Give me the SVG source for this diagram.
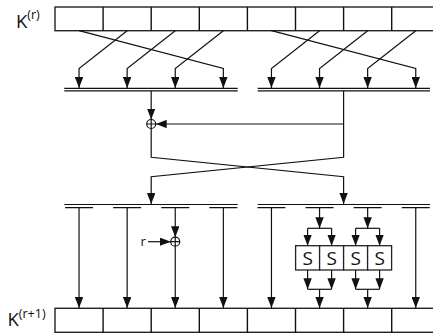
<svg xmlns="http://www.w3.org/2000/svg" width="433" height="333" viewBox="0 0 433 333">
<style>
.ln{fill:none;stroke:#111;stroke-width:1.2}
.ar{fill:none;stroke:#111;stroke-width:1.2;marker-end:url(#ah)}
.reg{fill:#fff;stroke:#222;stroke-width:1.4}
.box{fill:#fff;stroke:#222;stroke-width:1.3}
.t{font-family:"Open Sans","Noto Sans",sans-serif;fill:#111}
</style>
<defs>
<marker id="ah" markerUnits="userSpaceOnUse" markerWidth="11" markerHeight="8.4" refX="11" refY="4.2" orient="auto">
<path d="M0,0 L11,4.2 L0,8.4 z" fill="#111"/>
</marker>
</defs>

<g id="reg-top">
<rect class="reg" x="55" y="7" width="384.8" height="23.7"/>
<path class="ln" d="M103.1,7V30.7M151.2,7V30.7M199.3,7V30.7M247.4,7V30.7M295.5,7V30.7M343.6,7V30.7M391.7,7V30.7" style="stroke-width:1.4"/>
<text class="t" x="16" y="27.5" font-size="18.5">K<tspan font-size="12.5" dy="-9">(r)</tspan></text>
</g>

<g id="reg-bottom">
<rect class="reg" x="55" y="308.3" width="384.8" height="24"/>
<path class="ln" d="M103.1,308.3V332.3M151.2,308.3V332.3M199.3,308.3V332.3M247.4,308.3V332.3M295.5,308.3V332.3M343.6,308.3V332.3M391.7,308.3V332.3" style="stroke-width:1.4"/>
<text class="t" x="7.5" y="326" font-size="18.5">K<tspan font-size="12.5" dy="-8">(r+1)</tspan></text>
</g>

<g id="bus-top-left">
<path class="ln" d="M64.3,88.3H237.7M64.3,90.8H237.7"/>
</g>
<g id="bus-top-right">
<path class="ln" d="M257.7,88.3H430M257.7,90.8H430"/>
</g>

<g id="xor-top">
<circle class="ln" cx="151.2" cy="124" r="4.5"/>
<path class="ln" d="M146.7,124H155.7M151.2,119.5V128.5"/>
</g>

<g id="bus-low-left">
<path class="ln" d="M64.3,204.5H237.7M65.05,207.7H93.05M113.15,207.7H141.15M161.25,207.7H189.25M209.35,207.7H237.35"/>
</g>
<g id="bus-low-right">
<path class="ln" d="M257.7,204.5H430M257.45,207.7H285.45M305.55,207.7H333.55M353.65,207.7H381.65M401.75,207.7H429.75"/>
</g>

<g id="xor-low">
<circle class="ln" cx="175.25" cy="241.7" r="4.5"/>
<path class="ln" d="M170.75,241.7H179.75M175.25,237.2V246.2"/>
<text class="t" x="140.5" y="245.5" font-size="13">r</text>
</g>

<g id="sboxes">
<rect class="box" x="295.6" y="245.7" width="24" height="24.3"/>
<rect class="box" x="319.6" y="245.7" width="24" height="24.3"/>
<rect class="box" x="343.6" y="245.7" width="24" height="24.3"/>
<rect class="box" x="367.6" y="245.7" width="24" height="24.3"/>
<text class="t" x="307.6" y="264.6" font-size="19" text-anchor="middle">S</text>
<text class="t" x="331.6" y="264.6" font-size="19" text-anchor="middle">S</text>
<text class="t" x="355.6" y="264.6" font-size="19" text-anchor="middle">S</text>
<text class="t" x="379.6" y="264.6" font-size="19" text-anchor="middle">S</text>
</g>

<g id="connectors">
<path class="ar" d="M79.05,30.7L223.35,68.5V88"/>
<path class="ar" d="M127.15,30.7L79.05,68.5V88"/>
<path class="ar" d="M175.25,30.7L127.15,68.5V88"/>
<path class="ar" d="M223.35,30.7L175.25,68.5V88"/>
<path class="ar" d="M271.45,30.7L415.75,68.5V88"/>
<path class="ar" d="M319.55,30.7L271.45,68.5V88"/>
<path class="ar" d="M367.65,30.7L319.55,68.5V88"/>
<path class="ar" d="M415.75,30.7L367.65,68.5V88"/>

<path class="ar" d="M151.2,91V119.5"/>
<path class="ar" d="M343.6,124H155.7"/>
<path class="ar" d="M151.2,128.5V157.3L343.6,176.7V204"/>
<path class="ar" d="M343.6,91V157.3L151.2,176.7V204"/>

<path class="ar" d="M79.05,207.7V308"/>
<path class="ar" d="M127.15,207.7V308"/>
<path class="ar" d="M175.25,207.7V237.2"/>
<path class="ar" d="M148,241.7H170.75"/>
<path class="ar" d="M175.25,246.2V308"/>
<path class="ar" d="M223.35,207.7V308"/>
<path class="ar" d="M271.45,207.7V308"/>
<path class="ar" d="M415.75,207.7V308"/>

<path class="ar" d="M319.55,207.7V228.3"/>
<path class="ln" d="M307.6,228.3H331.6"/>
<path class="ar" d="M307.6,228.3V245.7"/>
<path class="ar" d="M331.6,228.3V245.7"/>
<path class="ar" d="M367.65,207.7V228.3"/>
<path class="ln" d="M355.6,228.3H379.6"/>
<path class="ar" d="M355.6,228.3V245.7"/>
<path class="ar" d="M379.6,228.3V245.7"/>

<path class="ar" d="M307.6,270V289.3"/>
<path class="ar" d="M331.6,270V289.3"/>
<path class="ln" d="M307.6,289.3H331.6"/>
<path class="ar" d="M319.55,289.3V308"/>
<path class="ar" d="M355.6,270V289.3"/>
<path class="ar" d="M379.6,270V289.3"/>
<path class="ln" d="M355.6,289.3H379.6"/>
<path class="ar" d="M367.65,289.3V308"/>
</g>
</svg>
